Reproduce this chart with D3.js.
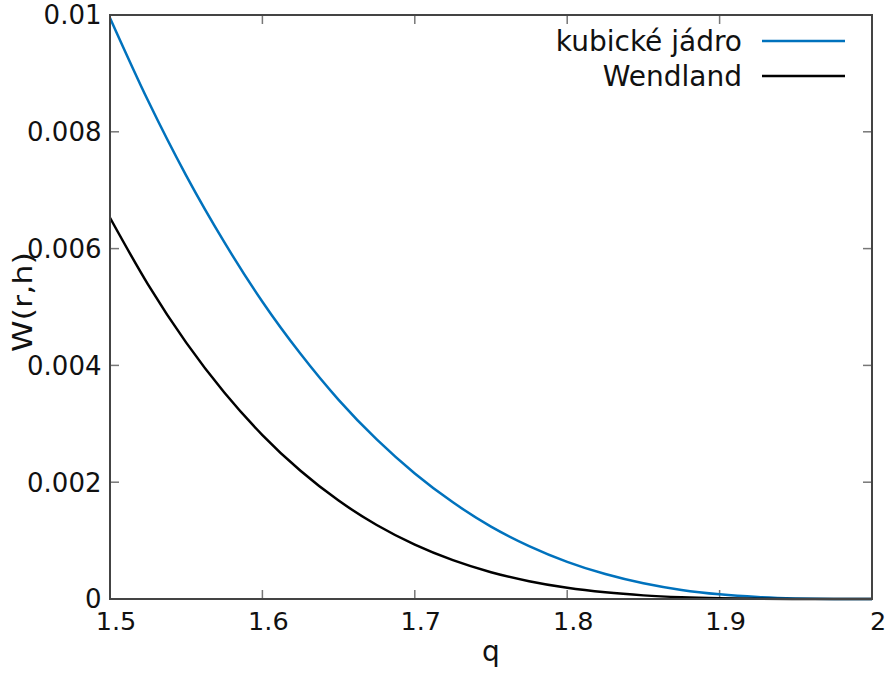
<!DOCTYPE html>
<html><head><meta charset="utf-8">
<script src="https://cdn.jsdelivr.net/npm/d3@7"></script>
<style>body{margin:0;background:#fff}text{font-family:"DejaVu Sans",sans-serif}</style>
</head><body>
<svg id="c" width="887" height="673"></svg>
<script>
const qValues = [1.5,1.525,1.55,1.575,1.6,1.625,1.65,1.675,1.7,1.725,1.75,1.775,1.8,1.825,1.85,1.875,1.9,1.925,1.95,1.975,2.0];
const cubicValues = [0.00995,0.008531,0.00725,0.00611,0.00509,0.004198,0.00341,0.002732,0.00215,0.001655,0.00124,0.000907,0.000637,0.000427,0.000269,0.000155,0.0000796,0.0000336,0.00001,0.0000012,0];
const wendlandValues = [0.006528,0.005384,0.00439,0.003536,0.002808,0.002195,0.001685,0.001267,0.000931,0.000665,0.000459,0.000305,0.000192,0.000114,0.0000621,0.0000303,0.0000125,0.000004,0.0000008,0.00000005,0];
const xTicks = [1.5,1.6,1.7,1.8,1.9,2];
const xTickLabels = ["1.5","1.6","1.7","1.8","1.9","2"];
const yTicks = [0,0.002,0.004,0.006,0.008,0.01];
const yTickLabels = ["0","0.002","0.004","0.006","0.008","0.01"];
const seriesNames = ["kubické jádro","Wendland"];
const seriesColors = ["#0072bd","#000000"];

const L=110,R=872,T=15,B=599;
const svg=d3.select("#c");
const x=d3.scaleLinear().domain([1.5,2]).range([L,R]);
const y=d3.scaleLinear().domain([0,0.01]).range([B,T]);

// ticks (inward, mirrored)
const tk=svg.append("g").attr("stroke","#777").attr("stroke-width",1.5);
xTicks.forEach(v=>{
  tk.append("line").attr("x1",x(v)).attr("x2",x(v)).attr("y1",B).attr("y2",B-9);
  tk.append("line").attr("x1",x(v)).attr("x2",x(v)).attr("y1",T).attr("y2",T+9);
});
yTicks.forEach(v=>{
  tk.append("line").attr("x1",L).attr("x2",L+9).attr("y1",y(v)).attr("y2",y(v));
  tk.append("line").attr("x1",R).attr("x2",R-9).attr("y1",y(v)).attr("y2",y(v));
});

// labels
xTicks.forEach((v,i)=>{
  svg.append("text").attr("x",x(v)+6).attr("y",630).attr("text-anchor","middle")
    .attr("font-size",25.5).attr("fill","#111").text(xTickLabels[i]);
});
yTicks.forEach((v,i)=>{
  svg.append("text").attr("x",101.5).attr("y",y(v)).attr("dy","0.36em").attr("text-anchor","end")
    .attr("font-size",26).attr("fill","#111").text(yTickLabels[i]);
});
svg.append("text").attr("x",(L+R)/2).attr("y",661).attr("text-anchor","middle")
  .attr("font-size",28).attr("fill","#111").text("q");
svg.append("text").attr("transform","translate(32,302) rotate(-90)").attr("text-anchor","middle")
  .attr("font-size",27).attr("fill","#111")
  .attr("textLength",100).attr("lengthAdjust","spacingAndGlyphs").text("W(r,h)");

// curves
const line=d3.line().x(d=>x(d[0])).y(d=>y(d[1])).curve(d3.curveMonotoneX);
[cubicValues,wendlandValues].forEach((vals,i)=>{
  svg.append("path").datum(qValues.map((q,j)=>[q,vals[j]]))
    .attr("d",line).attr("fill","none").attr("stroke",seriesColors[i]).attr("stroke-width",2.5);
});

// frame
svg.append("rect").attr("x",L).attr("y",T).attr("width",R-L).attr("height",B-T)
  .attr("fill","none").attr("stroke","#444").attr("stroke-width",2);

// legend
const legY=[41,76];
seriesNames.forEach((n,i)=>{
  svg.append("text").attr("x",742).attr("y",legY[i]).attr("dy","0.36em").attr("text-anchor","end")
    .attr("font-size",28).attr("fill","#111").text(n);
  svg.append("line").attr("x1",762).attr("x2",845).attr("y1",legY[i]).attr("y2",legY[i])
    .attr("stroke",seriesColors[i]).attr("stroke-width",2.5);
});
</script>
</body></html>
